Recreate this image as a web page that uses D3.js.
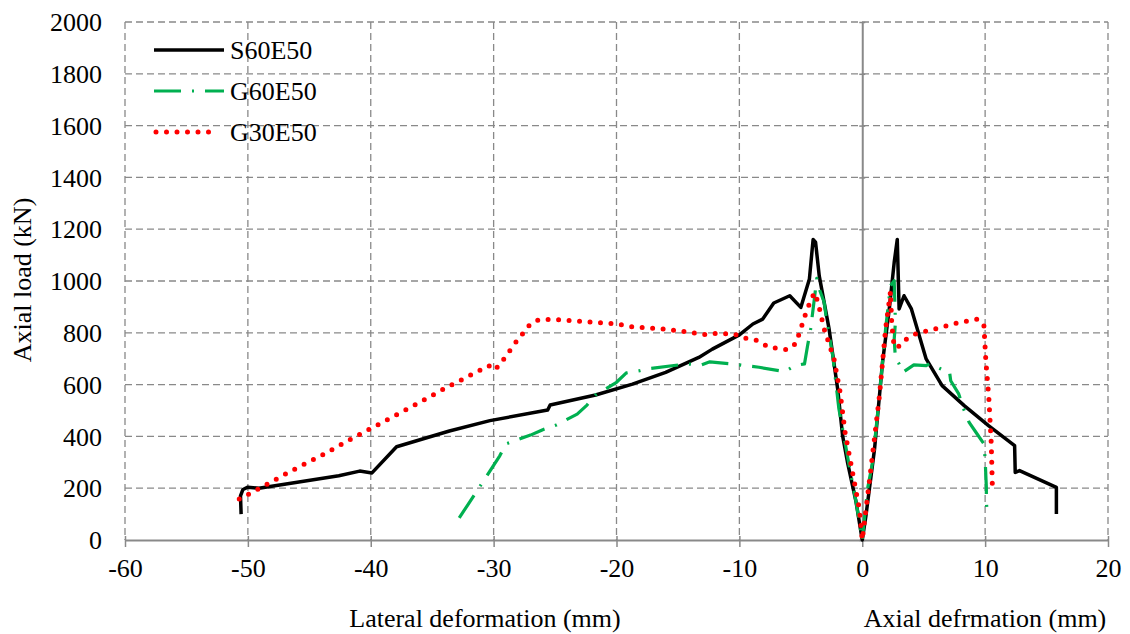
<!DOCTYPE html>
<html>
<head>
<meta charset="utf-8">
<script src="https://cdn.jsdelivr.net/npm/d3@7"></script>
<style>
  body { margin: 0; background: #fff; }
  svg text { font-family: "Times New Roman", "Liberation Serif", "DejaVu Serif", serif; }
</style>
</head>
<body>
<div id="chart"></div>
<script>
// series: [deformation (mm), axial load (kN)]
const s60e50 = [
  [-50.55, 100], [-50.6, 170], [-50.4, 195], [-50, 204], [-49.1, 200], [-46.5, 219],
  [-42.6, 248], [-40.9, 266], [-39.9, 259], [-37.9, 360], [-33.6, 421], [-30.3, 461],
  [-25.6, 502], [-25.4, 521], [-21.7, 560], [-18.7, 602], [-16.0, 647], [-13.3, 705],
  [-12.2, 737], [-10.0, 792], [-8.9, 834], [-8.1, 853], [-7.2, 915], [-5.9, 943],
  [-5.0, 898], [-4.3, 1008], [-4.0, 1160], [-3.8, 1150], [-3.5, 1020], [-2.7, 815],
  [-2.0, 583], [-1.6, 403], [-1.2, 300], [-0.5, 146], [0, 0],
  [0.3, 94], [1.0, 351], [1.65, 686], [2.2, 892], [2.6, 1072], [2.85, 1160],
  [3.0, 892], [3.4, 943], [4.0, 892], [5.2, 699], [6.5, 596], [8.3, 519],
  [10.3, 441], [12.4, 364], [12.45, 261], [12.8, 268], [15.8, 203], [15.8, 100]
];

const g60e50 = [
  [-32.8, 85], [-32.1, 136], [-31.4, 186], [-30.2, 274], [-29.5, 325], [-29.0, 371],
  [-27.0, 405], [-26.0, 426], [-24.9, 444], [-23.2, 486], [-22.4, 521], [-21.7, 560],
  [-20.0, 609], [-19.2, 645], [-18.1, 654], [-17.6, 660], [-14.3, 680], [-13.1, 676],
  [-12.4, 688], [-10.6, 680], [-9.5, 673], [-8.4, 667], [-6.3, 650], [-5.5, 673],
  [-4.7, 680], [-4.45, 750], [-4.2, 815], [-3.9, 930], [-3.7, 1010], [-3.5, 969],
  [-3.1, 918], [-2.95, 866], [-2.4, 711], [-1.9, 506], [-1.5, 403], [-1.06, 287],
  [-0.5, 146], [-0.1, 30], [0, 0],
  [0.43, 197], [0.84, 300], [1.4, 557], [1.9, 815], [2.3, 982], [2.6, 1001],
  [2.7, 840], [2.6, 776], [2.7, 699], [3.0, 680], [3.3, 647], [4.2, 676], [5.2, 673],
  [5.45, 680], [6.1, 667], [6.7, 654], [7.1, 650], [7.2, 615], [7.85, 564], [8.2, 512],
  [8.7, 454], [9.25, 416], [9.9, 371], [10.0, 313], [10.1, 203], [10.1, 146], [10.2, 88]
];

const g30e50 = [
  [-50.7, 158], [-49.0, 201], [-46.5, 266], [-43.9, 329], [-41.4, 395], [-38.9, 458],
  [-36.3, 524], [-33.8, 590], [-32.1, 631], [-30.4, 673], [-29.9, 656], [-29.3, 690],
  [-28.2, 763], [-27.0, 835], [-26.3, 851], [-25.0, 851], [-22.8, 844], [-20.0, 834],
  [-18.6, 822], [-16.2, 815], [-14.1, 802], [-12.7, 793], [-11.9, 798], [-10.4, 795],
  [-9.5, 779], [-8.5, 770], [-7.6, 744], [-6.1, 735], [-5.4, 759], [-5.1, 802],
  [-4.5, 889], [-3.9, 955], [-3.6, 918], [-3.1, 815], [-2.3, 699], [-1.8, 570],
  [-1.4, 416], [-0.87, 281], [-0.24, 120], [0, 0],
  [0.24, 94], [0.7, 274], [1.4, 557], [1.9, 815], [2.3, 960], [2.4, 834], [2.6, 744],
  [3.0, 748], [3.6, 776], [4.3, 795], [5.9, 815], [7.7, 838], [9.4, 853], [9.9, 828],
  [10.06, 692], [10.3, 551], [10.5, 371], [10.6, 186]
];

const xTicks = [-60, -50, -40, -30, -20, -10, 0, 10, 20];
const yTicks = [0, 200, 400, 600, 800, 1000, 1200, 1400, 1600, 1800, 2000];

const seriesNames = ["S60E50", "G60E50", "G30E50"];

const W = 1130, H = 634;
const margin = { top: 22, right: 22, bottom: 94, left: 125 };
const width = W - margin.left - margin.right,
      height = H - margin.top - margin.bottom;
const fontSize = 26;

const svg = d3.select("#chart").append("svg")
  .attr("width", W)
  .attr("height", H);

const g = svg.append("g")
  .attr("transform", `translate(${margin.left},${margin.top})`);

const x = d3.scaleLinear().domain([-60, 20]).range([0, width]);
const y = d3.scaleLinear().domain([0, 2000]).range([height, 0]);

const gridColor = "#898989";

// gridlines
g.append("g")
  .selectAll("line")
  .data(yTicks.filter(d => d > 0))
  .join("line")
  .attr("x1", 0).attr("x2", width)
  .attr("y1", d => y(d)).attr("y2", d => y(d))
  .attr("stroke", gridColor).attr("stroke-width", 1.3)
  .attr("stroke-dasharray", "7 4");

g.append("g")
  .selectAll("line")
  .data(xTicks.filter(d => d !== 0))
  .join("line")
  .attr("x1", d => x(d)).attr("x2", d => x(d))
  .attr("y1", 0).attr("y2", height)
  .attr("stroke", gridColor).attr("stroke-width", 1.3)
  .attr("stroke-dasharray", "7 4");

// x axis along y = 0
const xAxis = g.append("g")
  .attr("transform", `translate(0,${height})`)
  .call(d3.axisBottom(x).tickValues(xTicks).tickSize(7).tickSizeOuter(0).tickPadding(12)
    .tickFormat(d => String(d)));
xAxis.attr("font-family", null);
xAxis.select(".domain").attr("stroke", gridColor).attr("stroke-width", 2);
xAxis.selectAll(".tick line").attr("stroke", gridColor).attr("stroke-width", 1.5).attr("y1", -4);
xAxis.selectAll("text").attr("font-size", fontSize).attr("fill", "#000");

// y axis along x = 0, labels on the left
const yAxis = g.append("g")
  .attr("transform", `translate(${x(0)},0)`)
  .call(d3.axisLeft(y).tickValues(yTicks).tickSize(3).tickSizeOuter(0).tickFormat(""));
yAxis.select(".domain").attr("stroke", gridColor).attr("stroke-width", 2);
yAxis.selectAll(".tick line").attr("stroke", gridColor).attr("stroke-width", 1.5).attr("x2", 3).attr("x1", -3);

g.append("g")
  .selectAll("text")
  .data(yTicks)
  .join("text")
  .attr("x", -23)
  .attr("y", d => y(d))
  .attr("dy", "0.35em")
  .attr("text-anchor", "end")
  .attr("font-size", fontSize)
  .text(d => d);

// lines
const line = d3.line().x(d => x(d[0])).y(d => y(d[1]));

const styles = [
  { data: s60e50, color: "#000000", width: 3.5, dash: null, cap: "butt" },
  { data: g60e50, color: "#00b050", width: 3.2, dash: "27 11 2 11", cap: "butt" },
  { data: g30e50, color: "#ff0000", width: 5, dash: "0 10.5", cap: "round" }
];

g.append("g")
  .selectAll("path")
  .data(styles)
  .join("path")
  .attr("d", d => line(d.data))
  .attr("fill", "none")
  .attr("stroke", d => d.color)
  .attr("stroke-width", d => d.width)
  .attr("stroke-dasharray", d => d.dash)
  .attr("stroke-linecap", d => d.cap)
  .attr("stroke-linejoin", "round");

// legend
const legend = svg.append("g");
const legendRows = legend.selectAll("g")
  .data(styles)
  .join("g")
  .attr("transform", (d, i) => `translate(154,${50 + i * 41})`);

legendRows.append("line")
  .attr("x1", d => d.cap === "round" ? 2 : 0)
  .attr("x2", d => d.cap === "round" ? 64 : 70)
  .attr("stroke", d => d.color)
  .attr("stroke-width", d => d.width)
  .attr("stroke-dasharray", d => d.dash)
  .attr("stroke-linecap", d => d.cap);

legendRows.append("text")
  .attr("x", 76)
  .attr("dy", "0.35em")
  .attr("font-size", fontSize)
  .text((d, i) => seriesNames[i]);

// axis titles
svg.append("text")
  .attr("transform", "translate(31,280) rotate(-90)")
  .attr("text-anchor", "middle")
  .attr("font-size", fontSize)
  .text("Axial load (kN)");

svg.append("text")
  .attr("x", 485).attr("y", 627)
  .attr("text-anchor", "middle")
  .attr("font-size", fontSize)
  .text("Lateral deformation (mm)");

svg.append("text")
  .attr("x", 985).attr("y", 627)
  .attr("text-anchor", "middle")
  .attr("font-size", fontSize)
  .text("Axial defrmation (mm)");
</script>
</body>
</html>
